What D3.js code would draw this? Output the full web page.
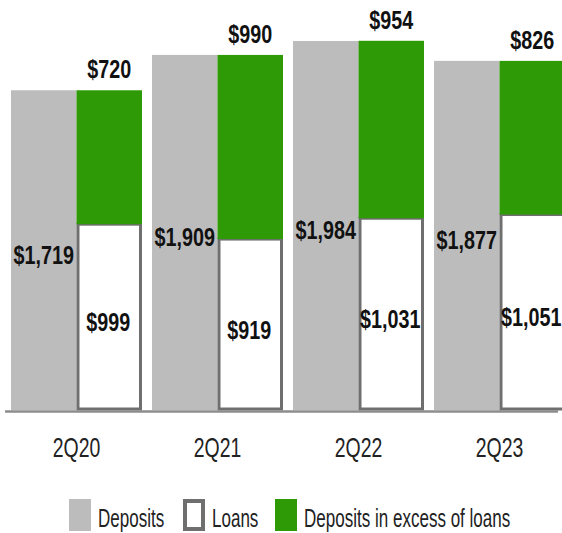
<!DOCTYPE html>
<html>
<head>
<meta charset="utf-8">
<script src="https://cdn.jsdelivr.net/npm/d3@7"></script>
<style>
  html, body { margin: 0; padding: 0; background: #ffffff; }
  svg { display: block; }
  text { font-family: "Liberation Sans", Arial, sans-serif; }
</style>
</head>
<body>
<svg id="chart" width="562" height="533"></svg>
<script>
// Quarterly balances ($ billions)
const quarters = ["2Q20", "2Q21", "2Q22", "2Q23"];
const deposits = [1719, 1909, 1984, 1877];
const loans = [999, 919, 1031, 1051];
const excess = [720, 990, 954, 826];
const legendLabels = ["Deposits", "Loans", "Deposits in excess of loans"];

const colors = { deposits: "#bcbcbc", loans: "#ffffff", border: "#6f6f6f", excess: "#2e9a05", axis: "#8c8c8c", text: "#111111" };

// Horizontal squeeze that gives the regular face a condensed look
const VAL_SQUEEZE = 0.76, TICK_SQUEEZE = 0.72, LEG_SQUEEZE = 0.655;

const svg = d3.select("#chart");

const x = d3.scaleBand().domain(quarters).range([11, 565]).paddingInner(0.071).paddingOuter(0);
const sub = d3.scaleBand().domain(["dep", "stack"]).range([0, x.bandwidth()]).padding(0);
const y = d3.scaleLinear().domain([0, 2000]).range([410, 38]);

const fmt = v => "$" + d3.format(",")(v);

const data = quarters.map((q, i) => ({ q, dep: deposits[i], loan: loans[i], exc: excess[i] }));

const g = svg.append("g");

// Deposits bars
g.selectAll("rect.dep").data(data).join("rect")
  .attr("class", "dep")
  .attr("x", d => x(d.q) + sub("dep"))
  .attr("y", d => y(d.dep))
  .attr("width", sub.bandwidth())
  .attr("height", d => y(0) - y(d.dep))
  .attr("fill", colors.deposits);

// Loans bars (outlined)
g.selectAll("rect.loan").data(data).join("rect")
  .attr("class", "loan")
  .attr("x", d => x(d.q) + sub("stack") + 1.5)
  .attr("y", d => y(d.loan))
  .attr("width", sub.bandwidth() - 3)
  .attr("height", d => y(0) - y(d.loan) - 1)
  .attr("fill", colors.loans)
  .attr("stroke", colors.border)
  .attr("stroke-width", 3);

// Excess stacked on top of loans
g.selectAll("rect.exc").data(data).join("rect")
  .attr("class", "exc")
  .attr("x", d => x(d.q) + sub("stack"))
  .attr("y", d => y(d.loan + d.exc))
  .attr("width", sub.bandwidth())
  .attr("height", d => y(d.loan) - y(d.loan + d.exc))
  .attr("fill", colors.excess);

// Baseline
svg.append("line")
  .attr("x1", 5).attr("x2", 558)
  .attr("y1", y(0) + 1.5).attr("y2", y(0) + 1.5)
  .attr("stroke", colors.axis).attr("stroke-width", 2.5);

// Value labels
const lab = svg.append("g")
  .attr("font-size", 26).attr("font-weight", "bold")
  .attr("fill", colors.text).attr("text-anchor", "middle");

const place = (px, py, s) => `translate(${px},${py}) scale(${s},1)`;

lab.selectAll("text.dep").data(data).join("text")
  .attr("class", "dep")
  .attr("transform", d => place(x(d.q) + sub("dep") + sub.bandwidth() / 2, (y(d.dep) + y(0)) / 2 + 14, VAL_SQUEEZE))
  .text(d => fmt(d.dep));

lab.selectAll("text.loan").data(data).join("text")
  .attr("class", "loan")
  .attr("transform", d => place(x(d.q) + sub("stack") + sub.bandwidth() / 2 - 1, (y(d.loan) + y(0)) / 2 + 14, VAL_SQUEEZE))
  .text(d => fmt(d.loan));

lab.selectAll("text.exc").data(data).join("text")
  .attr("class", "exc")
  .attr("transform", d => place(x(d.q) + sub("stack") + sub.bandwidth() / 2, y(d.loan + d.exc) - 12, VAL_SQUEEZE))
  .text(d => fmt(d.exc));

// Category axis
const axis = d3.axisBottom(x).tickSize(0).tickPadding(0);
const ax = svg.append("g").attr("transform", `translate(0, ${y(0) + 47})`).call(axis);
ax.select(".domain").remove();
ax.selectAll("text")
  .attr("font-size", 27).attr("fill", "#222")
  .attr("font-family", null)
  .attr("dy", 0).attr("y", 0)
  .attr("transform", `scale(${TICK_SQUEEZE},1)`);

// Legend
const leg = svg.append("g").attr("transform", "translate(0, 498)");
const items = [
  { label: legendLabels[0], x: 69, fill: colors.deposits, stroke: "none" },
  { label: legendLabels[1], x: 183, fill: "#ffffff", stroke: colors.border },
  { label: legendLabels[2], x: 275, fill: colors.excess, stroke: "none" }
];
const li = leg.selectAll("g").data(items).join("g")
  .attr("transform", d => `translate(${d.x}, 0)`);
li.append("rect")
  .attr("x", d => d.stroke === "none" ? 0 : 2)
  .attr("y", d => d.stroke === "none" ? 1 : 3)
  .attr("width", d => d.stroke === "none" ? 22 : 18)
  .attr("height", d => d.stroke === "none" ? 32 : 28)
  .attr("fill", d => d.fill)
  .attr("stroke", d => d.stroke)
  .attr("stroke-width", 4);
li.append("text")
  .attr("transform", place(29, 29, LEG_SQUEEZE))
  .attr("font-size", 26).attr("fill", "#222")
  .text(d => d.label);
</script>
</body>
</html>
